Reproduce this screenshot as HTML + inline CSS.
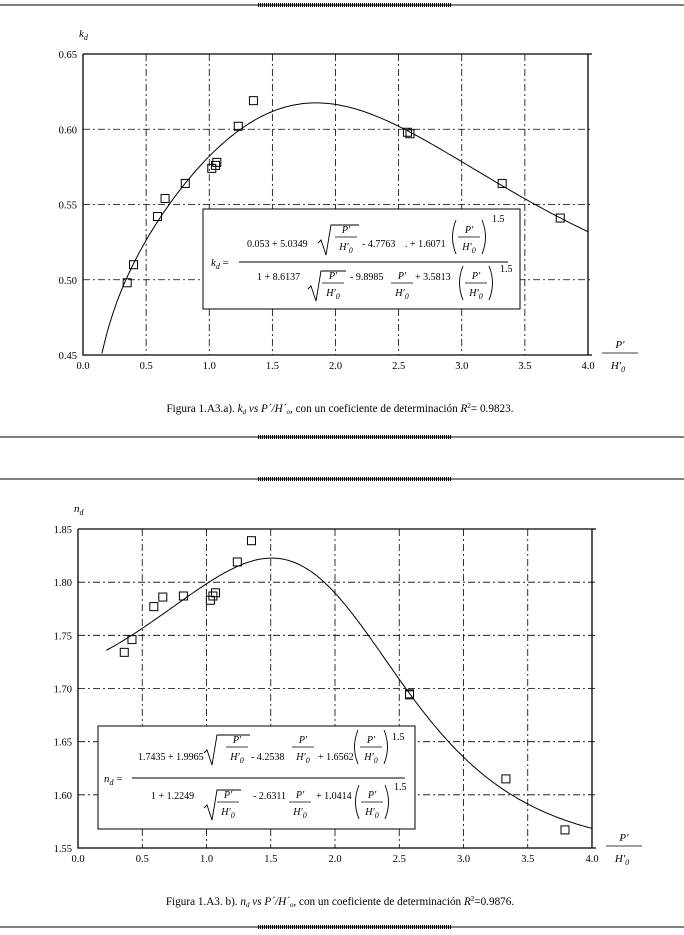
<!DOCTYPE html>
<html><head><meta charset="utf-8"><style>
html,body{margin:0;padding:0;background:#fff;}
svg{display:block;font-family:"Liberation Serif",serif;}
</style></head><body>
<svg id="page" width="684" height="935" viewBox="0 0 684 935" xmlns="http://www.w3.org/2000/svg">
<g id="deco"></g>
<g id="chartA"></g>
<g id="chartB"></g>
<text x="340" y="412" font-size="11.2" text-anchor="middle">Figura 1.A3.a). <tspan font-style="italic">k<tspan font-size="7" dy="2">d</tspan></tspan><tspan dy="-2"> </tspan><tspan font-style="italic">vs P´/H´<tspan font-size="7" dy="2">o</tspan></tspan><tspan dy="-2">, con un coeficiente de determinación </tspan><tspan font-style="italic">R</tspan><tspan font-size="7" dy="-4">2</tspan><tspan dy="4">= 0.9823.</tspan></text>
<text x="340" y="905" font-size="11.2" text-anchor="middle">Figura 1.A3. b). <tspan font-style="italic">n<tspan font-size="7" dy="2">d</tspan></tspan><tspan dy="-2"> </tspan><tspan font-style="italic">vs P´/H´<tspan font-size="7" dy="2">o</tspan></tspan><tspan dy="-2">, con un coeficiente de determinación </tspan><tspan font-style="italic">R</tspan><tspan font-size="7" dy="-4">2</tspan><tspan dy="4">=0.9876.</tspan></text>
</svg>
<script>
// ---- data ----
const xTicks = ["0.0","0.5","1.0","1.5","2.0","2.5","3.0","3.5","4.0"];
const kdTicks = ["0.45","0.50","0.55","0.60","0.65"];
const ndTicks = ["1.55","1.60","1.65","1.70","1.75","1.80","1.85"];
const kdX = [0.35,0.40,0.59,0.65,0.81,1.02,1.05,1.06,1.23,1.35,2.57,2.59,3.32,3.78];
const kdY = [0.498,0.510,0.542,0.554,0.564,0.574,0.576,0.578,0.602,0.619,0.598,0.597,0.564,0.541];
const ndX = [0.36,0.42,0.59,0.66,0.82,1.03,1.05,1.07,1.24,1.35,2.58,2.58,3.33,3.79];
const ndY = [1.734,1.746,1.777,1.786,1.787,1.783,1.787,1.790,1.819,1.839,1.694,1.695,1.615,1.567];
const kdNum = [0.053,5.0349,-4.7763,1.6071];
const kdDen = [1,8.6137,-9.8985,3.5813];
const ndNum = [1.7435,1.9965,-4.2538,1.6562];
const ndDen = [1,1.2249,-2.6311,1.0414];

const NS="http://www.w3.org/2000/svg";
function mk(parent,tag,attrs,text){const e=document.createElementNS(NS,tag);for(const k in attrs)e.setAttribute(k,attrs[k]);if(text!==undefined)e.textContent=text;parent.appendChild(e);return e;}
function model(c,x){const s=Math.sqrt(x);return c[0]+c[1]*s+c[2]*x+c[3]*x*s;}

// page rules
const deco=document.getElementById('deco');
[5,437,479,927].forEach(y=>{
  const l=mk(deco,'line',{x1:0,x2:684,y1:y,y2:y,stroke:'#000','stroke-width':1});
  
  
  const h=mk(deco,'line',{x1:258,x2:452,y1:y,y2:y,stroke:'#000','stroke-width':4,'stroke-dasharray':'1,1'});
  
  
});

function chart(g,cfg){
  const {L,R,T,B,yMin,yMax,yTicks,px,py,num,den,x0,yLabel}=cfg;
  const sx=v=>L+(R-L)*v/4;
  const sy=v=>B-(B-T)*(v-yMin)/(yMax-yMin);
  // grid
  xTicks.forEach((t,i)=>{
    const v=parseFloat(t);
    if(v>0&&v<4){const l=mk(g,'line',{x1:sx(v),x2:sx(v),y1:T,y2:B,stroke:'#000','stroke-width':0.8,'stroke-dasharray':'7,3,2,3'});
      
      }
    const tk=mk(g,'text',{x:sx(v),y:B+14,'font-size':10.5,'text-anchor':'middle'},t);
    
    
  });
  yTicks.forEach(t=>{
    const v=parseFloat(t);
    if(v>yMin&&v<yMax){const l=mk(g,'line',{x1:L,x2:R+4,y1:sy(v),y2:sy(v),stroke:'#000','stroke-width':0.8,'stroke-dasharray':'7,3,2,3'});
      
      }
    const tk=mk(g,'text',{x:L-6,y:sy(v)+4,'font-size':10.5,'text-anchor':'end'},t);
    
    
  });
  // frame
  const ax=mk(g,'path',{d:`M${L},${T}H${R+4}M${L},${T}V${B}H${R+4}M${R},${T}V${B}`,stroke:'#000','stroke-width':1.3,fill:'none'});
  
  
  // y label
  const yl=mk(g,'text',{x:L-4,y:T-17,'font-size':11,'font-style':'italic'});
  
  
  yl.innerHTML=yLabel+'<tspan font-size="8" dy="3">d</tspan>';
  // x label fraction
  const xg=mk(g,'g',{});
  
  
  mk(xg,'text',{x:R+32,y:B-7,'font-size':11,'font-style':'italic','text-anchor':'middle'},'P′');
  mk(xg,'line',{x1:R+14,x2:R+50,y1:B-2,y2:B-2,stroke:'#000','stroke-width':0.8});
  const hx=mk(xg,'text',{x:R+30,y:B+14,'font-size':11,'font-style':'italic','text-anchor':'middle'});
  hx.innerHTML='H′<tspan font-size="8" dy="3">0</tspan>';
  // fitted curve
  let d='';
  for(let i=0;i<=200;i++){const x=x0+(4-x0)*i/200;const y=model(num,x)/model(den,x);const Y=Math.max(T,Math.min(B,sy(y)));d+=(i?'L':'M')+sx(x).toFixed(1)+','+Y.toFixed(1);}
  const c=mk(g,'path',{d,stroke:'#000','stroke-width':1,fill:'none'});
  
  
  // points
  px.forEach((x,i)=>{
    const r=mk(g,'rect',{x:sx(x)-4,y:sy(py[i])-4,width:8,height:8,fill:'none',stroke:'#000','stroke-width':1});
    
    
  });
}

function frac(g,cx,yl,w){ // P'/H'0 fraction
  mk(g,'text',{x:cx,y:yl-4,'font-size':10,'font-style':'italic','text-anchor':'middle'},'P′');
  mk(g,'line',{x1:cx-w/2,x2:cx+w/2,y1:yl,y2:yl,stroke:'#000','stroke-width':0.8});
  const t=mk(g,'text',{x:cx,y:yl+13,'font-size':10,'font-style':'italic','text-anchor':'middle'});
  t.innerHTML='H′<tspan font-size="8" dy="3">0</tspan>';
}
function sqrtF(g,x1,cx,yl,w){
  const x2=cx+w/2+2;
  mk(g,'path',{d:`M${x1},${yl+6}l3,-3l5,15l5,-${30}H${x2}`,stroke:'#000','stroke-width':0.9,fill:'none'});
  frac(g,cx,yl,w);
}
function parenF(g,cx,yl,w){
  mk(g,'path',{d:`M${cx-w/2-2},${yl-17}q-7,17 0,34M${cx+w/2+2},${yl-17}q7,17 0,34`,stroke:'#000','stroke-width':0.9,fill:'none'});
  frac(g,cx,yl,w);
}
function eq(parent,o){
  const g=mk(parent,'g',{});
  
  
  mk(g,'rect',{x:o.bx,y:o.by,width:o.bw,height:o.bh,fill:'#fff',stroke:'#000','stroke-width':1});
  const lab=mk(g,'text',{x:o.lx,y:o.ml+4,'font-size':11,'font-style':'italic'});
  lab.innerHTML=o.lab+'<tspan font-size="8" dy="3">d</tspan><tspan dy="-3" font-style="normal"> =</tspan>';
  mk(g,'line',{x1:o.m1,x2:o.m2,y1:o.ml,y2:o.ml,stroke:'#000','stroke-width':1});
  o.texts.forEach(t=>mk(g,'text',{x:t[0],y:t[1],'font-size':10},t[2]));
  o.sq.forEach(s=>sqrtF(g,s[0],s[1],s[2],22));
  o.fr.forEach(s=>frac(g,s[0],s[1],22));
  o.pa.forEach(s=>parenF(g,s[0],s[1],22));
  o.ex.forEach(s=>mk(g,'text',{x:s[0],y:s[1],'font-size':10},'1.5'));
}

chart(document.getElementById('chartA'),{L:83,R:588,T:54,B:355,yMin:0.45,yMax:0.65,yTicks:kdTicks,px:kdX,py:kdY,num:kdNum,den:kdDen,x0:0.15,yLabel:'k'});
eq(document.getElementById('chartA'),{bx:203,by:209,bw:317,bh:100,lx:211,lab:'k',ml:262,m1:239,m2:508,
  texts:[[247,247,'0.053 + 5.0349'],[362,247,'- 4.7763'],[405,247,'. + 1.6071'],[257,280,'1 + 8.6137'],[350,280,'- 9.8985'],[415,280,'+ 3.5813']],
  sq:[[318,346,237]],fr:[[402,283]],pa:[[469,237]],ex:[[492,222],[500,272]]});
// denominator sqrt in chart A
(function(){const g=document.getElementById('chartA').lastChild;sqrtF(g,308,333,283,22);parenF(g,476,283,22);})();

chart(document.getElementById('chartB'),{L:78,R:592,T:529,B:848,yMin:1.55,yMax:1.85,yTicks:ndTicks,px:ndX,py:ndY,num:ndNum,den:ndDen,x0:0.22,yLabel:'n'});
eq(document.getElementById('chartB'),{bx:98,by:726,bw:317,bh:103,lx:104,lab:'n',ml:778,m1:132,m2:405,
  texts:[[138,760,'1.7435 + 1.9965'],[251,760,'- 4.2538'],[318,760,'+ 1.6562'],[151,799,'1 + 1.2249'],[253,799,'- 2.6311'],[316,799,'+ 1.0414']],
  sq:[[204,237,747],[204,228,802]],fr:[[303,747],[300,802]],pa:[[371,747],[372,802]],ex:[[392,740],[394,790]]});
</script>
</body></html>
